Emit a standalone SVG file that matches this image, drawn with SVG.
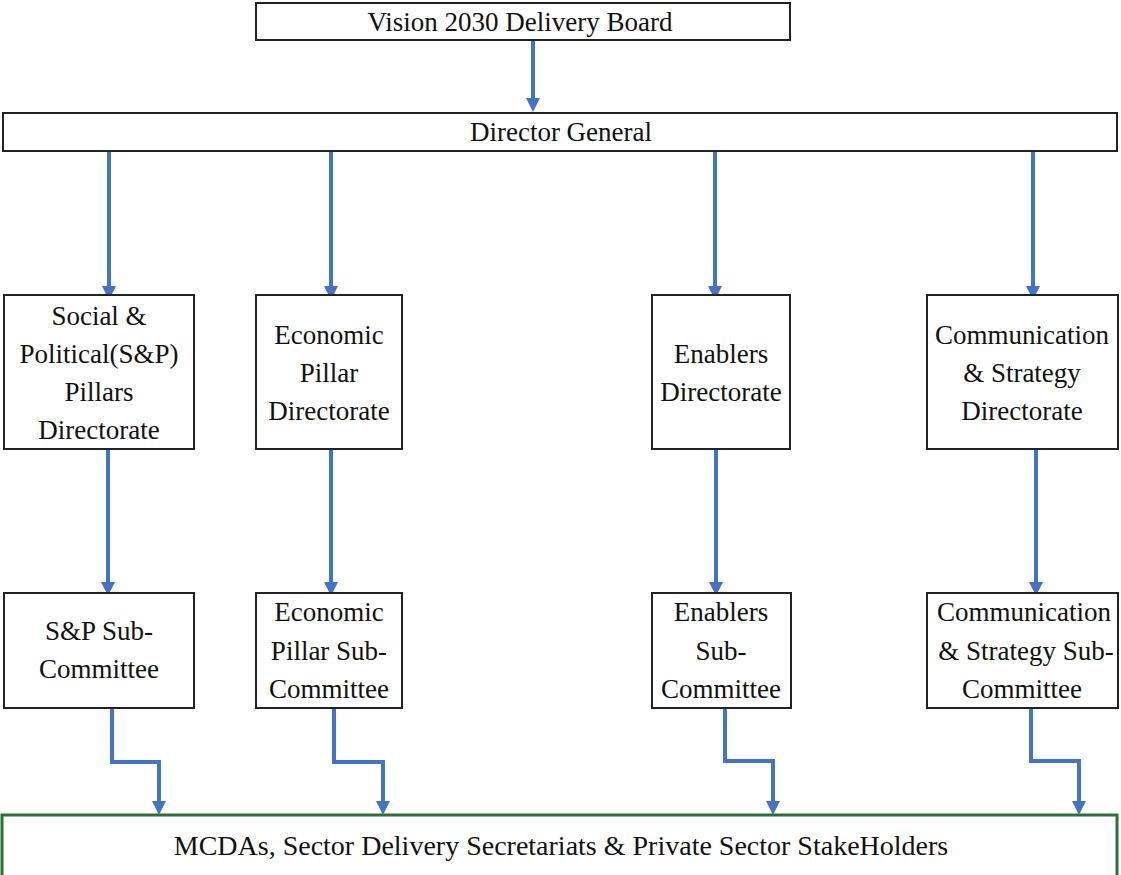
<svg xmlns="http://www.w3.org/2000/svg" width="1121" height="875" viewBox="0 0 1121 875">
<defs>
<style>
.box{fill:#fff;stroke:#222;stroke-width:2}
.gbox{fill:#fff;stroke:#2e7034;stroke-width:3}
.t{font-family:"Liberation Serif","Times New Roman",serif;font-size:27px;fill:#111;text-anchor:middle}
.big{font-size:28px}
.c{fill:none;stroke:#4472c4;stroke-width:4;marker-end:url(#ah)}
</style>
<marker id="ah" viewBox="0 0 14 14" markerWidth="14" markerHeight="14" refX="4" refY="7" orient="auto" markerUnits="userSpaceOnUse">
<path d="M0,0 L14,7 L0,14 z" fill="#4472c4"/>
</marker>
</defs>
<rect width="1121" height="875" fill="#fff"/>
<g id="connectors">
<path class="c" d="M533,40 V102"/>
<path class="c" d="M109,151 V290"/>
<path class="c" d="M331,151 V290"/>
<path class="c" d="M715,151 V290"/>
<path class="c" d="M1033,148 V290"/>
<path class="c" d="M108,449 V586"/>
<path class="c" d="M331,449 V586"/>
<path class="c" d="M716,449 V586"/>
<path class="c" d="M1036,449 V586"/>
<path class="c" d="M112,708 V762 H159 V805"/>
<path class="c" d="M334,708 V762 H383 V805"/>
<path class="c" d="M725,708 V761 H773 V805"/>
<path class="c" d="M1031,708 V761 H1079 V805"/>
</g>
<g id="board"><rect class="box" x="256" y="3" width="534" height="37"/><text class="t" x="520" y="31">Vision 2030 Delivery Board</text></g>
<g id="dg"><rect class="box" x="3" y="113" width="1114" height="38"/><text class="t" x="561" y="141">Director General</text></g>
<g id="sp-dir"><rect class="box" x="4" y="295" width="190" height="154"/>
<text class="t" x="99" y="325">Social &amp;</text><text class="t" x="99" y="363">Political(S&amp;P)</text><text class="t" x="99" y="401">Pillars</text><text class="t" x="99" y="439">Directorate</text></g>
<g id="eco-dir"><rect class="box" x="256" y="295" width="146" height="154"/>
<text class="t" x="329" y="344">Economic</text><text class="t" x="329" y="382">Pillar</text><text class="t" x="329" y="420">Directorate</text></g>
<g id="ena-dir"><rect class="box" x="652" y="295" width="138" height="154"/>
<text class="t" x="721" y="363">Enablers</text><text class="t" x="721" y="401">Directorate</text></g>
<g id="com-dir"><rect class="box" x="927" y="295" width="191" height="154"/>
<text class="t" x="1022" y="344">Communication</text><text class="t" x="1022" y="382">&amp; Strategy</text><text class="t" x="1022" y="420">Directorate</text></g>
<g id="sp-sub"><rect class="box" x="4" y="593" width="190" height="115"/>
<text class="t" x="99" y="640">S&amp;P Sub-</text><text class="t" x="99" y="678">Committee</text></g>
<g id="eco-sub"><rect class="box" x="256" y="593" width="146" height="115"/>
<text class="t" x="329" y="621">Economic</text><text class="t" x="329" y="660">Pillar Sub-</text><text class="t" x="329" y="698">Committee</text></g>
<g id="ena-sub"><rect class="box" x="652" y="593" width="139" height="115"/>
<text class="t" x="721" y="621">Enablers</text><text class="t" x="721" y="660">Sub-</text><text class="t" x="721" y="698">Committee</text></g>
<g id="com-sub"><rect class="box" x="927" y="593" width="191" height="115"/>
<text class="t" x="1024" y="621">Communication</text><text class="t" x="1026" y="660">&amp; Strategy Sub-</text><text class="t" x="1022" y="698">Committee</text></g>
<g id="mcdas"><rect class="gbox" x="2" y="815" width="1115" height="70"/>
<text class="t big" x="561" y="855">MCDAs, Sector Delivery Secretariats &amp; Private Sector StakeHolders</text></g>
</svg>
